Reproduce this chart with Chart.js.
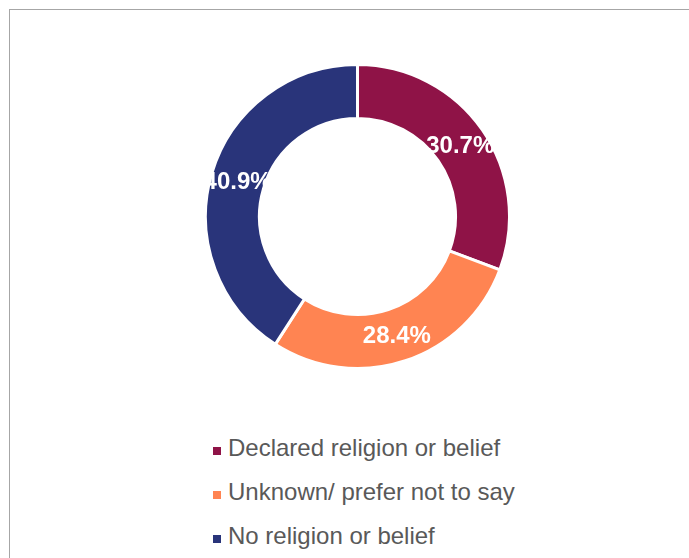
<!DOCTYPE html>
<html>
<head>
<meta charset="utf-8">
<script src="https://cdn.jsdelivr.net/npm/chart.js@4"></script>
<style>
  body { margin: 0; width: 689px; height: 558px; background: #fff; overflow: hidden; position: relative; font-family: "Liberation Sans", Arial, sans-serif; }
  #frame { position: absolute; left: 9px; top: 9px; width: 720px; height: 620px; border: 1px solid #a6a6a6; }
  #wrap { position: absolute; left: 204px; top: 63px; width: 307px; height: 307px; }
  #legend { position: absolute; left: 213px; top: 426px; list-style: none; margin: 0; padding: 0; }
  #legend li { height: 44px; line-height: 44px; font-size: 24px; color: #595959; white-space: nowrap; }
  #legend span.box { display: inline-block; width: 8px; height: 8px; margin-right: 7px; vertical-align: 1px; }
</style>
</head>
<body>
<div id="frame"></div>
<div id="wrap"><canvas id="donut"></canvas></div>
<ul id="legend"></ul>
<script>
const labels = ['Declared religion or belief', 'Unknown/ prefer not to say', 'No religion or belief'];
const values = [30.7, 28.4, 40.9];
const colors = ['#8f1347', '#ff8452', '#29347a'];

// ラベル（%）をリングの中央に描く
const pctLabels = {
  id: 'pctLabels',
  afterDatasetsDraw(chart) {
    const ctx = chart.ctx;
    const meta = chart.getDatasetMeta(0);
    ctx.save();
    ctx.fillStyle = '#fff';
    ctx.font = 'bold 24px "Liberation Sans", Arial, sans-serif';
    ctx.textAlign = 'center';
    ctx.textBaseline = 'middle';
    meta.data.forEach((arc, i) => {
      const p = arc.getCenterPoint();
      ctx.fillText(values[i].toFixed(1) + '%', p.x, p.y + 1);
    });
    ctx.restore();
  }
};

new Chart(document.getElementById('donut'), {
  type: 'doughnut',
  data: {
    labels: labels,
    datasets: [{
      data: values,
      backgroundColor: colors,
      borderColor: '#fff',
      borderWidth: 3
    }]
  },
  plugins: [pctLabels],
  options: {
    responsive: true,
    maintainAspectRatio: false,
    animation: false,
    cutout: '64.5%',
    layout: { padding: 0 },
    plugins: {
      legend: { display: false },
      tooltip: { enabled: false }
    }
  }
});

// 凡例
const legend = document.getElementById('legend');
labels.forEach((name, i) => {
  const li = document.createElement('li');
  const box = document.createElement('span');
  box.className = 'box';
  box.style.background = colors[i];
  li.appendChild(box);
  li.appendChild(document.createTextNode(name));
  legend.appendChild(li);
});
</script>
</body>
</html>
